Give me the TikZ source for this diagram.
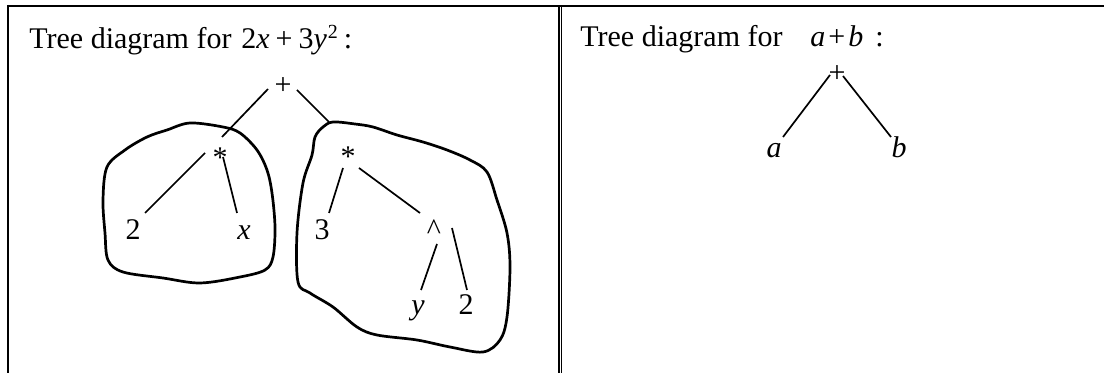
\documentclass[tikz,border=0pt]{standalone}
\usepackage{fontspec}
\setmainfont{Liberation Serif}
\usetikzlibrary{calc}
\begin{document}
\begin{tikzpicture}[x=0.5pt,y=-0.5pt,
  lbl/.style={inner sep=0pt, anchor=base, font=\fontsize{15}{18}\selectfont},
  edge/.style={line width=0.85pt},
  blob/.style={line width=1.35pt, line join=round},
  rulethick/.style={line width=1.1pt},
  rulethin/.style={line width=0.75pt}]
\useasboundingbox (0,0) rectangle (1104,373);

% frame
\draw[rulethick] (7,6) -- (1104,6);
\draw[line width=1.25pt] (8,5) -- (8,373);
\draw[rulethick] (558.8,6) -- (558.8,373);
\draw[rulethin] (561.3,6) -- (561.3,373);

% titles
\node[lbl, anchor=base west] (titleL) at (29,49) {Tree diagram for};
\node[lbl, anchor=base west] (exprL) at (241,49) {2\textit{x}\kern0.2em+\kern0.2em3\textit{y}\kern0.03em\raisebox{0.36em}{\fontsize{10}{10}\selectfont 2}\kern0.2em:};
\node[lbl, anchor=base west] (titleR) at (580,47) {Tree diagram for};
\node[lbl, anchor=base west] (exprR) at (810,47) {\textit{a}\kern0.1em+\kern0.1em\textit{b}\kern0.4em:};

% left tree nodes
\node[lbl] (plusL) at (283,95) {+};
\node[lbl] (starL) at (220,168) {*};
\node[lbl] (twoL) at (133,240) {2};
\node[lbl] (xL) at (244,240) {\textit{x}};
\node[lbl] (starR) at (348,167) {*};
\node[lbl] (three) at (322,240) {3};
\node[lbl] (caret) at (434,240) {\textasciicircum};
\node[lbl] (yR) at (418,315) {\textit{y}};
\node[lbl] (twoR) at (466,315) {2};
\coordinate (blobRtop) at (329,122);

% right tree nodes
\node[lbl] (plusR) at (837,83) {+};
\node[lbl] (aR) at (774,158) {\textit{a}};
\node[lbl] (bR) at (899,158) {\textit{b}};

% edges
\draw[edge] ($(plusL.base)+(-15,-6)$) -- ($(starL.base)+(2,-31)$);
\draw[edge] ($(plusL.base)+(14,-5)$) -- (blobRtop);
\draw[edge] ($(starL.base)+(-15,-15)$) -- ($(twoL.base)+(12,-27)$);
\draw[edge] ($(starL.base)+(3,-11)$) -- ($(xL.base)+(-7,-27)$);
\draw[edge] ($(starR.base)+(-5,1)$) -- ($(three.base)+(7,-27)$);
\draw[edge] ($(starR.base)+(11,1)$) -- ($(caret.base)+(-14,-27)$);
\draw[edge] ($(caret.base)+(3,4)$) -- ($(yR.base)+(3,-25)$);
\draw[edge] ($(caret.base)+(18,-12)$) -- ($(twoR.base)+(1,-25)$);
\draw[edge] ($(plusR.base)+(-7,-8)$) -- ($(aR.base)+(9,-21)$);
\draw[edge] ($(plusR.base)+(6,-7)$) -- ($(bR.base)+(-8,-21)$);

% blobs
\draw[blob] plot[smooth cycle, tension=0.55] coordinates {
  (107,167) (125,150) (147,137) (167,130) (190,123) (223,127) (240,133)
  (257,150) (267,170) (272,193) (275,227) (273,257) (265,270) (240,277)
  (200,283) (163,278) (123,272) (108,260) (105,233) (103,200)};
\draw[blob] plot[smooth cycle, tension=0.55] coordinates {
  (323,127) (333,122) (355,124) (373,127) (397,135) (423,142) (447,150)
  (470,160) (487,172) (497,200) (507,233) (510,267) (507,317) (500,340)
  (483,352) (450,347) (417,340) (377,335) (357,327) (333,307) (310,293)
  (298,282) (297,233) (303,183) (312,155) (315,137)};
\end{tikzpicture}
\end{document}
